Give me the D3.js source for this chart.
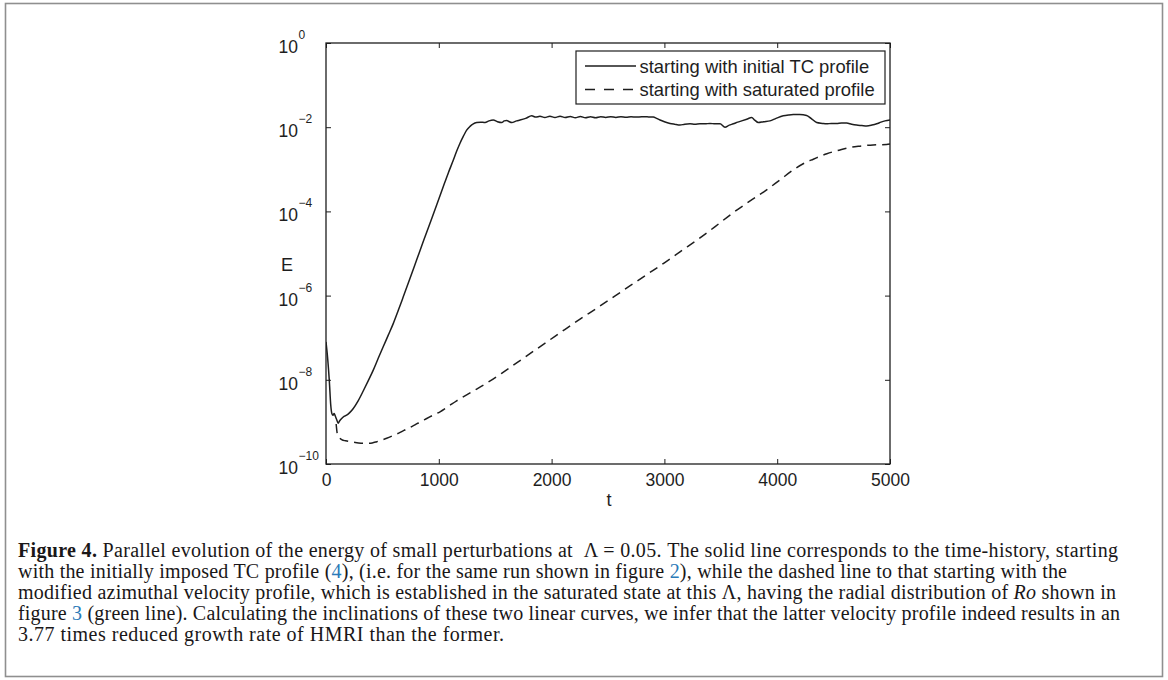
<!DOCTYPE html>
<html>
<head>
<meta charset="utf-8">
<script src="https://cdn.jsdelivr.net/npm/d3@7"></script>
<style>
  body { margin: 0; background: #fff; }
  svg { display: block; }
</style>
</head>
<body>
<svg id="fig" width="1168" height="680"></svg>
<script>
// Energy history, run started from the initial TC profile (t, log10 E)
const solidTime = [0, 15, 30, 42, 52, 62, 72, 82, 95, 108, 120, 139, 160, 183, 210, 242, 285, 331, 375, 419, 463, 508, 552, 597, 641, 685, 745, 804, 863, 922, 981, 1040, 1085, 1129, 1158, 1188, 1217, 1247, 1277, 1306, 1336, 1370, 1410, 1445, 1483, 1520, 1558, 1580, 1602, 1625, 1646, 1690, 1720, 1770, 1824, 1860, 1897, 1940, 1985, 2030, 2075, 2120, 2165, 2210, 2255, 2300, 2345, 2390, 2435, 2480, 2525, 2570, 2615, 2660, 2705, 2750, 2800, 2860, 2902, 2930, 2961, 3000, 3050, 3090, 3138, 3180, 3227, 3270, 3315, 3360, 3404, 3450, 3493, 3537, 3575, 3611, 3650, 3685, 3730, 3774, 3800, 3833, 3880, 3936, 3990, 4054, 4100, 4143, 4200, 4261, 4300, 4350, 4400, 4439, 4480, 4527, 4570, 4616, 4660, 4704, 4750, 4793, 4840, 4882, 4920, 4956, 5000];
const solidLogE = [-7.1, -7.5, -8.05, -8.6, -8.8, -8.84, -8.8, -8.86, -8.95, -9.03, -8.98, -8.92, -8.87, -8.84, -8.78, -8.68, -8.5, -8.26, -8.02, -7.77, -7.49, -7.21, -6.94, -6.66, -6.35, -6.03, -5.59, -5.15, -4.71, -4.28, -3.85, -3.41, -3.08, -2.78, -2.57, -2.38, -2.22, -2.07, -1.98, -1.92, -1.89, -1.88, -1.89, -1.85, -1.83, -1.87, -1.89, -1.85, -1.84, -1.87, -1.89, -1.85, -1.83, -1.79, -1.73, -1.76, -1.74, -1.77, -1.74, -1.77, -1.74, -1.77, -1.745, -1.775, -1.745, -1.775, -1.75, -1.775, -1.75, -1.77, -1.75, -1.77, -1.75, -1.765, -1.75, -1.76, -1.75, -1.755, -1.76, -1.79, -1.83, -1.87, -1.91, -1.93, -1.95, -1.93, -1.92, -1.93, -1.92, -1.92, -1.91, -1.92, -1.92, -2.0, -1.95, -1.92, -1.88, -1.85, -1.81, -1.77, -1.83, -1.89, -1.87, -1.85, -1.79, -1.73, -1.71, -1.7, -1.7, -1.72, -1.79, -1.89, -1.91, -1.92, -1.91, -1.91, -1.9, -1.9, -1.93, -1.95, -1.96, -1.97, -1.95, -1.92, -1.88, -1.85, -1.83];

// Energy history, run started from the saturated profile (t, log10 E)
const dashedTime = [90, 100, 115, 139, 175, 213, 260, 310, 361, 410, 450, 495, 538, 600, 657, 715, 775, 835, 893, 950, 1011, 1085, 1158, 1290, 1424, 1560, 1700, 1840, 1980, 2120, 2252, 2400, 2550, 2700, 2850, 3000, 3138, 3300, 3450, 3600, 3750, 3900, 4025, 4150, 4250, 4320, 4440, 4557, 4650, 4734, 4850, 4970, 5000];
const dashedLogE = [-9.05, -9.28, -9.36, -9.42, -9.45, -9.47, -9.49, -9.505, -9.51, -9.5, -9.47, -9.43, -9.39, -9.32, -9.25, -9.17, -9.09, -9.0, -8.92, -8.84, -8.76, -8.63, -8.5, -8.29, -8.08, -7.84, -7.58, -7.32, -7.06, -6.8, -6.56, -6.3, -6.03, -5.76, -5.49, -5.22, -4.96, -4.66, -4.36, -4.05, -3.77, -3.5, -3.25, -3.0, -2.84, -2.76, -2.63, -2.54, -2.48, -2.45, -2.42, -2.41, -2.4];

const xTickValues = [0, 1000, 2000, 3000, 4000, 5000];
const yTickExponents = [0, -2, -4, -6, -8, -10];
const legendLabels = ["starting with initial TC profile", "starting with saturated profile"];
const xAxisTitle = "t";
const yAxisTitle = "E";

// Caption, one entry per printed line; segments carry their typographic role
const captionLines = [
  [["b", "Figure 4."], ["r", " Parallel evolution of the energy of small perturbations at  Λ = 0.05. The solid line corresponds to the time-history, starting"]],
  [["r", "with the initially imposed TC profile ("], ["a", "4"], ["r", "), (i.e. for the same run shown in figure "], ["a", "2"], ["r", "), while the dashed line to that starting with the"]],
  [["r", "modified azimuthal velocity profile, which is established in the saturated state at this Λ, having the radial distribution of "], ["i", "Ro"], ["r", " shown in"]],
  [["r", "figure "], ["a", "3"], ["r", " (green line). Calculating the inclinations of these two linear curves, we infer that the latter velocity profile indeed results in an"]],
  [["r", "3.77 times reduced growth rate of HMRI than the former."]]
];
const captionWidths = [1100, 1049, 1098, 1102, 486];

const svg = d3.select("#fig");
const W = 1168, H = 680;
const plot = { left: 326, right: 890, top: 43, bottom: 464 };
const ink = "#1e1e1e";
const sans = "Liberation Sans, Arial, sans-serif";

svg.append("rect").attr("width", W).attr("height", H).attr("fill", "#fff");
// figure panel border
svg.append("rect")
  .attr("x", 5.5).attr("y", 3.5).attr("width", 1157).attr("height", 673)
  .attr("fill", "none").attr("stroke", "#8f8f8f").attr("stroke-width", 1.6);

const x = d3.scaleLinear().domain([0, 5000]).range([plot.left, plot.right]);
const y = d3.scaleLog().domain([1e-10, 1]).range([plot.bottom, plot.top]);
const yTickValues = yTickExponents.map(e => Math.pow(10, e));

// Inward ticks on all four sides
function styleAxis(g) {
  g.select(".domain").remove();
  g.selectAll(".tick line").attr("stroke", ink).attr("stroke-width", 1);
}
const gBottom = svg.append("g").attr("transform", `translate(0,${plot.bottom})`)
  .call(d3.axisBottom(x).tickValues(xTickValues).tickSize(-5).tickPadding(10).tickFormat(d3.format("d")))
  .call(styleAxis);
gBottom.selectAll(".tick text")
  .attr("font-family", sans).attr("font-size", 17.5).attr("fill", ink);
svg.append("g").attr("transform", `translate(0,${plot.top})`)
  .call(d3.axisTop(x).tickValues(xTickValues).tickSize(-5).tickFormat(""))
  .call(styleAxis);
const gLeft = svg.append("g").attr("transform", `translate(${plot.left},0)`)
  .call(d3.axisLeft(y).tickValues(yTickValues).tickSize(-5).tickFormat(""))
  .call(styleAxis);
svg.append("g").attr("transform", `translate(${plot.right},0)`)
  .call(d3.axisRight(y).tickValues(yTickValues).tickSize(-5).tickFormat(""))
  .call(styleAxis);

// Power-of-ten labels: base "10" with a raised exponent
gLeft.selectAll(".tick").each(function (d) {
  const e = Math.round(Math.log10(d));
  const t = d3.select(this).append("text")
    .attr("x", 278.5 - plot.left).attr("y", 9.5)
    .attr("text-anchor", "start")
    .attr("font-family", sans).attr("fill", ink);
  t.append("tspan").attr("font-size", 17.5).text("10");
  t.append("tspan").attr("font-size", 12).attr("dx", 0.5).attr("dy", -14)
    .text(e < 0 ? "\u2212" + Math.abs(e) : String(e));
});

// Plot frame
svg.append("rect")
  .attr("x", plot.left).attr("y", plot.top)
  .attr("width", plot.right - plot.left).attr("height", plot.bottom - plot.top)
  .attr("fill", "none").attr("stroke", ink).attr("stroke-width", 1.3);

// Axis titles
svg.append("text").attr("x", (plot.left + plot.right) / 2 + 1).attr("y", 506)
  .attr("text-anchor", "middle").attr("font-family", sans).attr("font-size", 18).attr("fill", ink)
  .text(xAxisTitle);
svg.append("text").attr("x", 287).attr("y", 271)
  .attr("text-anchor", "middle").attr("font-family", sans).attr("font-size", 18).attr("fill", ink)
  .text(yAxisTitle);

// Curves
const line = d3.line()
  .x(d => x(d[0]))
  .y(d => y(Math.pow(10, d[1])))
  .curve(d3.curveMonotoneX);
svg.append("clipPath").attr("id", "plotClip").append("rect")
  .attr("x", plot.left).attr("y", plot.top)
  .attr("width", plot.right - plot.left).attr("height", plot.bottom - plot.top);
const curves = svg.append("g").attr("clip-path", "url(#plotClip)");
curves.append("path")
  .datum(solidTime.map((t, i) => [t, solidLogE[i]]))
  .attr("d", line).attr("fill", "none")
  .attr("stroke", ink).attr("stroke-width", 1.5).attr("stroke-linejoin", "round");
curves.append("path")
  .datum(dashedTime.map((t, i) => [t, dashedLogE[i]]))
  .attr("d", line).attr("fill", "none")
  .attr("stroke", ink).attr("stroke-width", 1.5).attr("stroke-dasharray", "9,6");

// Legend
const legend = svg.append("g");
legend.append("rect")
  .attr("x", 576).attr("y", 51).attr("width", 309).attr("height", 53)
  .attr("fill", "#fff").attr("stroke", ink).attr("stroke-width", 1.2);
const legendRows = legend.selectAll("g.row").data(legendLabels).join("g")
  .attr("class", "row")
  .attr("transform", (d, i) => `translate(0,${66 + i * 23.5})`);
legendRows.append("line")
  .attr("x1", 585).attr("x2", (d, i) => i === 0 ? 636 : 633).attr("y1", 0).attr("y2", 0)
  .attr("stroke", ink).attr("stroke-width", 1.5)
  .attr("stroke-dasharray", (d, i) => i === 0 ? null : "10,9");
legendRows.append("text")
  .attr("x", 639.5).attr("y", 6.5)
  .attr("font-family", sans).attr("font-size", 18.4).attr("fill", ink)
  .text(d => d);

// Caption: one shared font size fitted to the first (full) line,
// then per-line letter spacing to reach each line's printed width
const serif = "Liberation Serif, Times New Roman, serif";
const cap = svg.append("g");
const capTexts = captionLines.map((segs, i) => {
  const t = cap.append("text")
    .attr("x", 18).attr("y", 557 + i * 21)
    .attr("font-family", serif).attr("font-size", 17.5).attr("fill", "#1a1718")
    .attr("xml:space", "preserve");
  segs.forEach(([kind, str]) => {
    const s = t.append("tspan").text(str);
    if (kind === "b") s.attr("font-weight", "bold");
    if (kind === "i") s.attr("font-style", "italic");
    if (kind === "a") s.attr("fill", "#2a7ab8");
  });
  return t;
});
const fs = Math.min(20, 17.5 * captionWidths[0] / capTexts[0].node().getComputedTextLength());
capTexts.forEach((t, i) => {
  t.attr("font-size", fs);
  const natural = t.node().getComputedTextLength();
  const chars = captionLines[i].reduce((n, s) => n + s[1].length, 0);
  t.attr("letter-spacing", (captionWidths[i] - natural) / (chars - 1));
});
</script>
</body>
</html>
